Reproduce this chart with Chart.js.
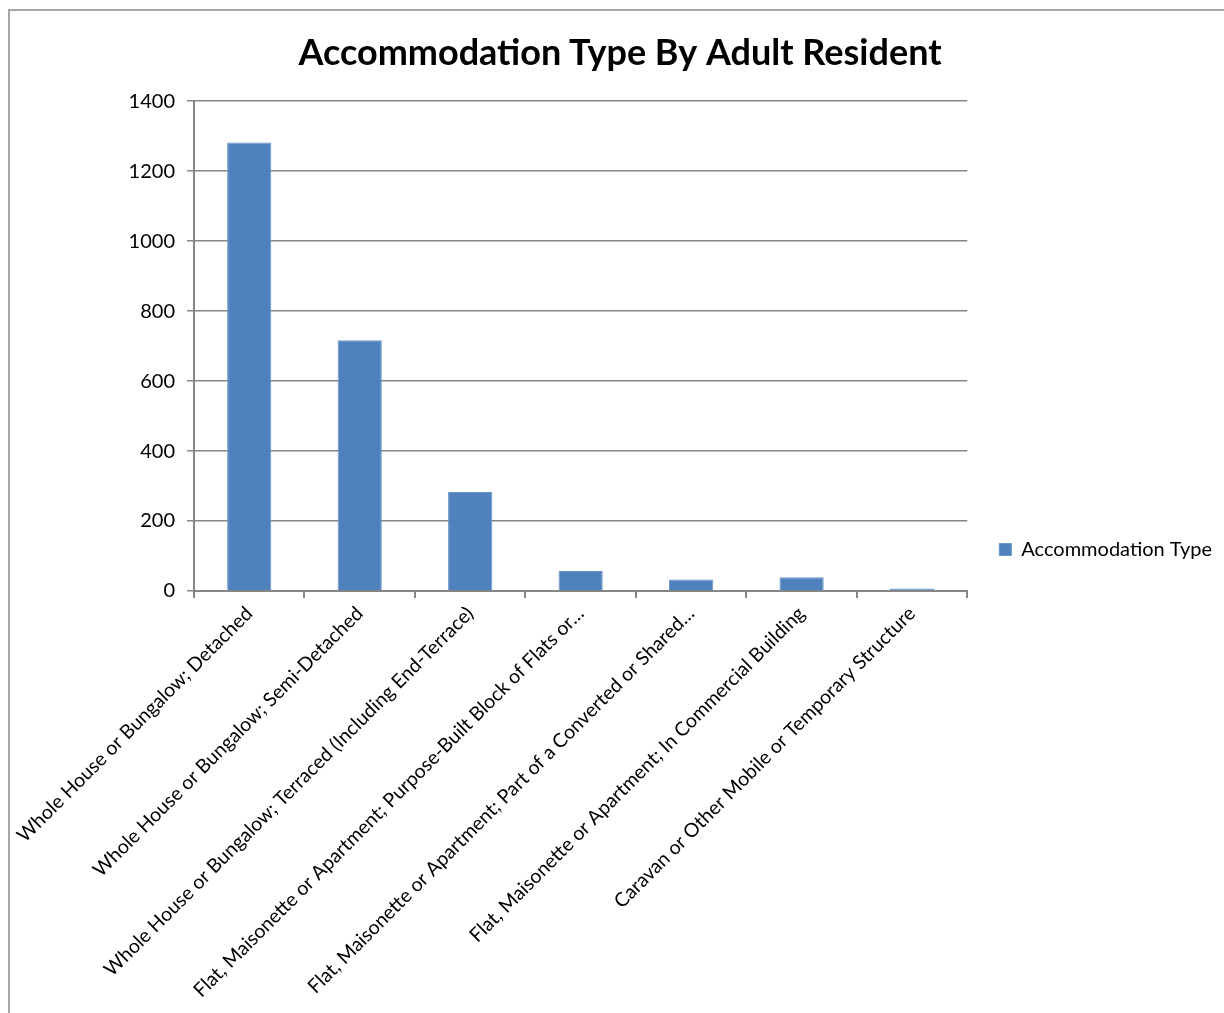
<!DOCTYPE html>
<html>
<head>
<meta charset="utf-8">
<script src="https://cdn.jsdelivr.net/npm/chart.js@4.4.0/dist/chart.umd.min.js"></script>
<style>
    html, body { margin: 0; padding: 0; background: #ffffff; }
    .wrap { position: relative; width: 1224px; height: 1013px; }
    .frame {
        position: absolute; left: 8px; top: 9px; right: -4px; bottom: -4px;
        border-top: 2px solid #a6a6a6; border-left: 2px solid #a6a6a6;
    }
    canvas { position: absolute; left: 0; top: 0; }
</style>
</head>
<body>
<div class="wrap">
    <div class="frame"></div>
    <canvas id="accChart" width="1224" height="1013"></canvas>
</div>
<script>
const chartTitle = "Accommodation\u00a0Type By Adult Resident";
const seriesName = "Accommodation Type";
const categories = [
    "Whole House or Bungalow; Detached",
    "Whole House or Bungalow; Semi-Detached",
    "Whole House or Bungalow; Terraced (Including End-Terrace)",
    "Flat, Maisonette or Apartment; Purpose-Built Block of Flats or\u2026",
    "Flat, Maisonette or Apartment; Part of a Converted or Shared\u2026",
    "Flat, Maisonette or Apartment; In Commercial Building",
    "Caravan or Other Mobile or Temporary Structure",
];
const residents = [1282, 717, 283, 57, 33, 39, 7];
const yTicks = [0, 200, 400, 600, 800, 1000, 1200, 1400];

const fontName = "Lato, 'Open Sans', sans-serif";

// eslint-disable-next-line no-undef
const accChart = new Chart(document.getElementById("accChart"), {
    type: "bar",
    data: {
        labels: categories,
        datasets: [{
            label: seriesName,
            data: residents,
            backgroundColor: "#4f81bd",
            borderColor: "#6a95c9",
            borderWidth: 1,
            barPercentage: 0.4,
            categoryPercentage: 1,
        }],
    },
    options: {
        responsive: false,
        animation: false,
        layout: { padding: { left: 18, right: 2, top: 32, bottom: 10 } },
        plugins: {
            title: {
                display: true,
                text: chartTitle,
                color: "#000000",
                font: { family: fontName, size: 36, weight: "bold" },
                padding: { top: 0, bottom: 26 },
            },
            legend: {
                position: "right",
                title: {
                    display: true,
                    text: "",
                    font: { size: 10 },
                    padding: { top: 26, bottom: 26 },
                },
                labels: {
                    color: "#000000",
                    font: { family: fontName, size: 20 },
                    boxWidth: 12,
                    boxHeight: 12,
                    padding: 32,
                },
            },
            tooltip: { enabled: false },
        },
        scales: {
            x: {
                grid: {
                    offset: true,
                    drawOnChartArea: false,
                    drawTicks: true,
                    tickLength: 7,
                    color: "#868686",
                    lineWidth: 2,
                },
                border: { color: "#868686", width: 2 },
                ticks: {
                    color: "#000000",
                    font: { family: fontName, size: 19.5 },
                    minRotation: 45,
                    maxRotation: 45,
                    autoSkip: false,
                    padding: 4,
                },
                afterFit(scale) { scale.height = 412; },
            },
            y: {
                min: 0,
                max: 1400,
                afterBuildTicks(scale) {
                    scale.ticks = yTicks.map(v => ({ value: v }));
                },
                grid: {
                    color: "#868686",
                    lineWidth: 1.5,
                    tickLength: 7,
                },
                border: { color: "#868686", width: 2 },
                ticks: {
                    color: "#000000",
                    font: { family: fontName, size: 20 },
                    padding: 12,
                    callback: v => String(v),
                },
                afterFit(scale) { scale.width = 176; },
            },
        },
    },
});
</script>
</body>
</html>
